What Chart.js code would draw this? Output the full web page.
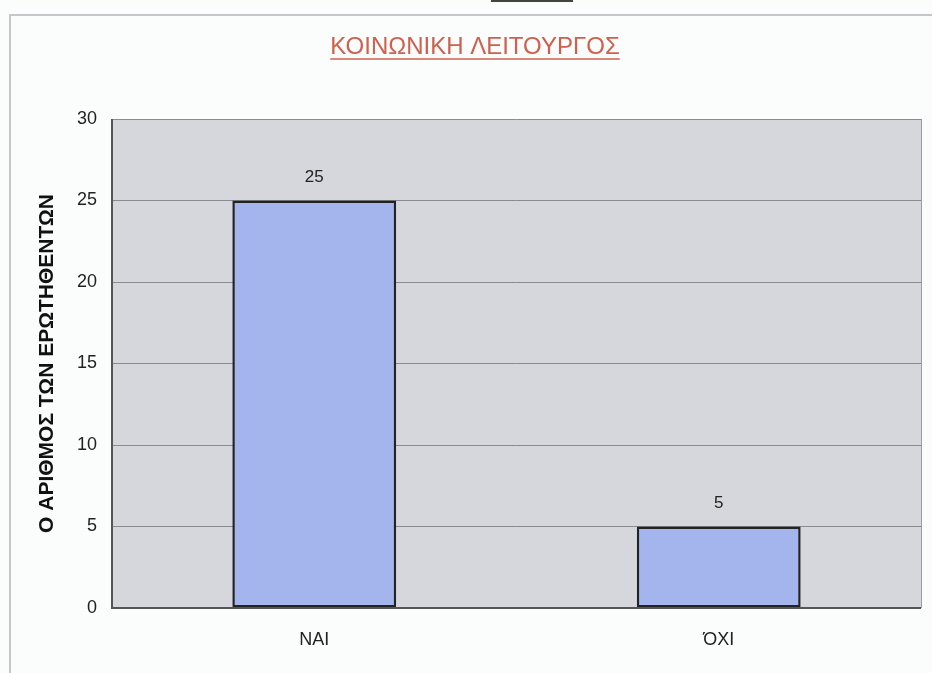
<!DOCTYPE html>
<html>
<head>
<meta charset="utf-8">
<script src="https://cdn.jsdelivr.net/npm/chart.js@4"></script>
<style>
  html, body { margin: 0; padding: 0; background: #fbfcfc; }
  #wrap { position: relative; width: 932px; height: 673px; }
  #frameTop { position: absolute; left: 9px; top: 14px; width: 923px; height: 0; border-top: 2px solid #c4c6ca; }
  #frameLeft { position: absolute; left: 9px; top: 14px; width: 0; height: 659px; border-left: 2px solid #c4c6ca; }
  #topBar { position: absolute; left: 491px; top: 0; width: 82px; height: 2px; background: #444; }
  canvas { position: absolute; left: 0; top: 0; }
</style>
</head>
<body>
<div id="wrap">
  <div id="frameTop"></div>
  <div id="frameLeft"></div>
  <div id="topBar"></div>
  <canvas id="c" width="932" height="673"></canvas>
</div>
<script>
const chartTitle = "ΚΟΙΝΩΝΙΚΗ ΛΕΙΤΟΥΡΓΟΣ";
const yAxisTitle = "Ο ΑΡΙΘΜΟΣ ΤΩΝ ΕΡΩΤΗΘΕΝΤΩΝ";
const categories = ["ΝΑΙ", "ΌΧΙ"];
const values = [25, 5];
const yTicks = [0, 5, 10, 15, 20, 25, 30];

const FONT = '"Liberation Sans", Arial, sans-serif';

const plotBg = {
  id: 'plotBg',
  beforeDraw(chart) {
    const {ctx, chartArea: a} = chart;
    ctx.save();
    ctx.fillStyle = '#d6d7dd';
    ctx.fillRect(a.left, a.top, a.right - a.left, a.bottom - a.top);
    ctx.restore();
  },
  afterDatasetsDraw(chart) {
    const {ctx, chartArea: a} = chart;
    ctx.save();
    ctx.strokeStyle = '#555';
    ctx.lineWidth = 2;
    ctx.beginPath();
    ctx.moveTo(a.left, a.top);
    ctx.lineTo(a.left, a.bottom);
    ctx.lineTo(a.right, a.bottom);
    ctx.stroke();
    ctx.strokeStyle = '#9a9ca2';
    ctx.lineWidth = 1;
    ctx.beginPath();
    ctx.moveTo(a.right + 0.5, a.top);
    ctx.lineTo(a.right + 0.5, a.bottom);
    ctx.stroke();
    // value labels
    ctx.fillStyle = '#222';
    ctx.font = '17px ' + FONT;
    ctx.textAlign = 'center';
    ctx.textBaseline = 'middle';
    const meta = chart.getDatasetMeta(0);
    meta.data.forEach((bar, i) => {
      ctx.fillText(String(values[i]), bar.x, bar.y - 23);
    });
    // title
    ctx.fillStyle = '#d0604c';
    ctx.strokeStyle = '#d0604c';
    ctx.font = '24px ' + FONT;
    const tx = 475, ty = 47;
    ctx.fillText(chartTitle, tx, ty);
    const w = ctx.measureText(chartTitle).width;
    ctx.lineWidth = 1.5;
    ctx.beginPath();
    ctx.moveTo(tx - w / 2, ty + 12);
    ctx.lineTo(tx + w / 2, ty + 12);
    ctx.stroke();
    ctx.restore();
  }
};

new Chart(document.getElementById('c'), {
  type: 'bar',
  data: {
    labels: categories,
    datasets: [{
      data: values,
      backgroundColor: '#a3b5ec',
      borderColor: '#222',
      borderWidth: 2.5,
      borderSkipped: false,
      categoryPercentage: 1.0,
      barPercentage: 0.405
    }]
  },
  options: {
    responsive: false,
    animation: false,
    layout: { padding: { left: 30, right: 11, top: 119, bottom: 22 } },
    plugins: { legend: { display: false }, tooltip: { enabled: false } },
    scales: {
      x: {
        afterFit(scale) { scale.height = 43; },
        grid: { display: false, drawTicks: false },
        border: { display: false },
        ticks: {
          padding: 21,
          color: '#222',
          font: { family: FONT, size: 18 }
        }
      },
      y: {
        min: 0, max: 30,
        afterBuildTicks(scale) { scale.ticks = yTicks.map(v => ({ value: v })); },
        afterFit(scale) { scale.width = 112 - 30; },
        grid: { color: '#8a8b90', lineWidth: 1, drawTicks: false },
        border: { display: false },
        ticks: {
          padding: 15,
          color: '#222',
          font: { family: FONT, size: 18 }
        },
        title: {
          display: true,
          text: yAxisTitle,
          color: '#111',
          padding: { top: 5, bottom: 0 },
          font: { family: FONT, size: 21, weight: 'bold' }
        }
      }
    }
  },
  plugins: [plotBg]
});
</script>
</body>
</html>
